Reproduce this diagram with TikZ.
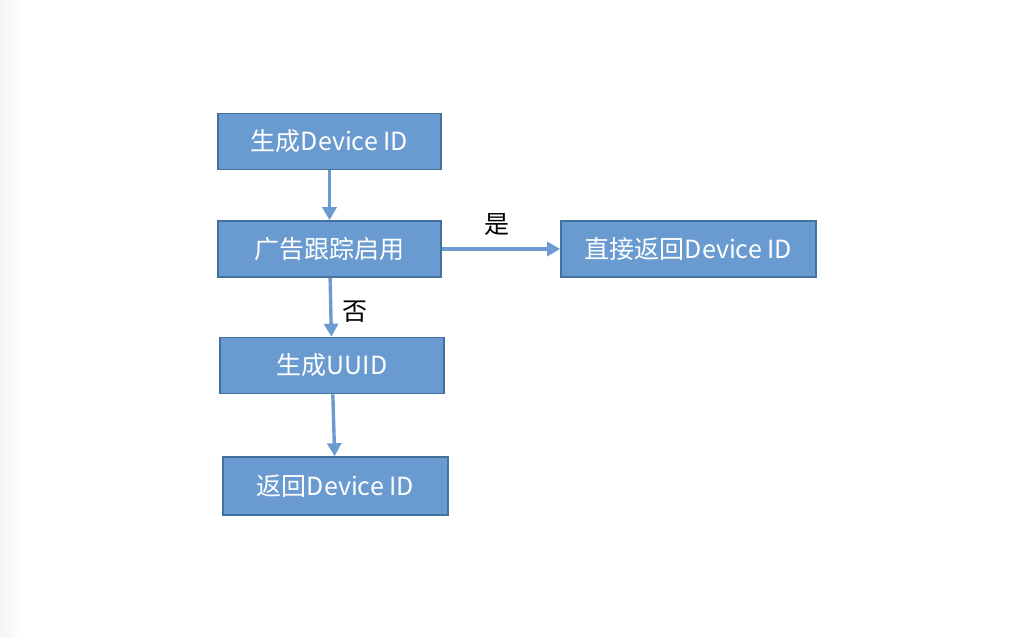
\documentclass[tikz,border=0pt]{standalone}
\usepackage{fontspec}
\setmainfont{Noto Sans CJK SC}
\usetikzlibrary{positioning, arrows.meta}
\definecolor{boxfill}{HTML}{6A9BD0}
\definecolor{boxline}{HTML}{41719C}
\definecolor{flowline}{HTML}{6C9BD2}

\begin{document}
\begin{tikzpicture}[%
    x=0.5pt, y=-0.5pt,
    >={Triangle[length=6.5pt,width=7pt]},
    node distance=50pt,
    on grid,
    stepbox/.style={draw=boxline, line width=0.8pt, fill=boxfill, text=white,
      minimum height=28pt, inner sep=0pt, font=\fontsize{12.5}{14}\selectfont},
    flow/.style={->, draw=flowline, line width=1.7pt},
    lbl/.style={font=\fontsize{12.5}{14}\selectfont}
  ]
  \useasboundingbox (0,0) rectangle (1014,638);
  \shade[left color=black!4, right color=white] (0,0) rectangle (25,638);

  \node[stepbox, minimum width=111.5pt] at (329.5,141.5) (gen) {生成Device ID};
  \node[stepbox, minimum width=111.5pt, below=53.75pt of gen] (adtrack) {广告跟踪启用};
  \node[stepbox, minimum width=127.5pt, right=179.5pt of adtrack] (direct) {直接返回Device ID};
  \node[stepbox, minimum width=112pt, below=58.25pt of adtrack, xshift=1.25pt] (uuid) {生成UUID};
  \node[stepbox, minimum width=112.5pt, minimum height=29pt, below=60.25pt of uuid, xshift=1.75pt] (ret) {返回Device ID};

  \draw[flow] (adtrack) -- node[lbl, above=2.5pt, xshift=-2pt] {是} (direct);
  \draw[flow] (gen) -- (adtrack);
  \draw[flow] (adtrack) -- node[lbl, right=1.5pt, yshift=-2pt] {否} (uuid);
  \draw[flow] (uuid) -- (ret);
\end{tikzpicture}
\end{document}
